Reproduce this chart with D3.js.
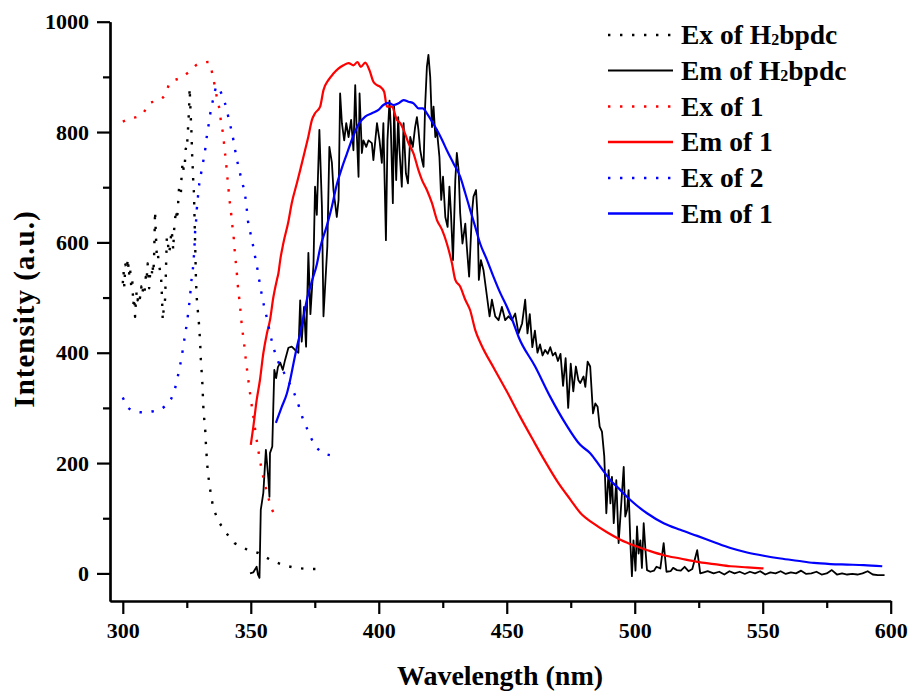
<!DOCTYPE html>
<html>
<head>
<meta charset="utf-8">
<script src="https://cdn.jsdelivr.net/npm/d3@7"></script>
<style>
  html, body { margin: 0; padding: 0; background: #fff; }
  svg { display: block; }
  text { font-family: "Liberation Serif", "Times New Roman", serif; font-weight: bold; fill: #000; }
</style>
</head>
<body>
<svg id="chart" width="912" height="693"></svg>
<script>
// ---------------- DATA ----------------
const xTicks = [300, 350, 400, 450, 500, 550, 600];
const xMinorTicks = [325, 375, 425, 475, 525, 575];
const yTicks = [0, 200, 400, 600, 800, 1000];
const yMinorTicks = [100, 300, 500, 700, 900];

const seriesNames = ["Ex of H2bpdc", "Em of H2bpdc", "Ex of 1", "Em of 1", "Ex of 2", "Em of 1"];

// Ex of H2bpdc (black dotted)
const exH2Wave = [300.0,300.3,300.6,301.0,301.5,302.0,302.4,302.8,303.3,303.7,304.1,304.5,304.8,305.1,305.4,305.8,306.2,306.7,307.2,307.6,308.0,308.5,309.0,309.3,309.7,310.0,310.3,310.7,311.3,311.6,311.9,312.2,312.4,312.6,312.9,313.3,313.7,314.1,314.5,315.0,315.3,315.6,316.0,316.5,316.8,317.2,317.6,318.0,318.5,318.8,319.1,319.5,319.7,320.0,320.4,320.8,321.2,321.7,322.0,322.4,322.7,323.0,323.4,323.8,324.2,324.6,325.0,325.3,325.6,325.8,326.0,326.1,326.3,326.5,326.7,326.9,327.0,327.2,327.4,327.6,327.8,328.0,328.2,328.4,328.6,328.9,329.3,329.8,330.2,330.5,330.8,331.1,331.5,331.9,332.3,332.5,332.8,333.2,333.8,334.5,335.4,337.3,340.1,343.6,348.2,353.0,357.9,362.6,367.6,372.3,377.1,378.5];
const exH2Int = [526,547,520,560,550,571,540,556,520,532,487,500,465,492,511,495,508,499,520,505,520,510,538,530,562,540,517,545,538,560,544,568,610,657,616,574,580,560,550,532,502,459,480,496,540,610,600,580,592,610,622,600,586,620,641,659,640,677,700,701,690,725,746,730,740,770,767,792,816,834,858,880,858,833,812,791,769,746,726,701,690,650,610,570,530,499,477,450,420,387,366,343,298,275,254,231,210,184,163,140,118,95,75,55,44,37,24,15,10,8,8,8];

// Em of H2bpdc (black solid)
const emH2Wave = [349.7,351.0,352.3,352.8,353.4,353.9,354.9,355.9,356.9,357.3,357.5,358.4,358.8,359.2,359.9,360.6,361.5,362.5,363.4,364.7,366.0,367.3,368.6,369.3,369.9,370.8,371.6,372.5,373.3,374.5,375.1,375.8,376.8,377.8,378.4,379.9,380.7,381.7,382.3,383.6,384.3,384.9,385.6,386.5,387.3,388.2,389.2,390.1,390.8,391.4,392.1,392.5,393.4,394.0,395.1,396.0,397.3,397.9,399.3,400.3,401.2,401.8,402.8,403.4,404.2,404.7,405.5,406.0,406.8,407.6,408.1,409.0,409.7,410.6,411.4,412.3,413.3,414.2,414.9,415.5,416.2,416.9,417.5,418.1,418.8,419.4,420.1,420.8,421.4,422.1,422.7,423.7,424.4,425.1,426.0,426.9,427.6,428.2,429.0,429.9,430.5,431.2,431.8,432.7,433.8,434.4,435.3,436.4,437.0,438.0,438.6,439.1,439.9,440.9,442.3,443.3,444.2,445.5,446.8,448.1,449.4,450.7,452.0,453.3,454.6,456.0,457.2,458.1,459.0,460.0,461.0,462.0,463.0,464.0,465.0,466.0,467.0,468.0,469.0,470.0,471.0,472.0,473.0,474.0,475.0,476.0,477.0,478.0,478.7,480.0,480.7,481.6,482.6,483.7,484.6,485.5,486.3,487.2,488.1,488.9,489.8,490.5,491.1,491.8,492.8,493.7,494.4,495.7,496.3,497.0,497.6,498.3,498.9,499.5,500.3,500.9,501.5,502.2,502.8,503.5,504.2,504.8,506.1,507.5,508.5,510.0,511.3,512.4,514.0,515.0,516.5,518.0,519.5,521.0,522.5,524.4,525.6,527.0,528.5,530.8,533.0,535.0,537.0,539.0,541.0,543.0,545.0,547.0,549.0,551.0,553.0,555.0,557.0,559.0,561.0,563.0,565.0,567.0,569.0,571.0,573.0,575.0,577.0,579.0,581.0,583.0,585.0,587.0,589.0,591.0,593.0,595.0,597.6];
const emH2Int = [0,2,12,-2,-8,115,146,224,170,139,218,230,302,369,354,374,382,369,387,409,411,405,400,495,420,483,411,581,470,560,701,650,804,664,466,592,773,744,695,646,677,870,816,785,816,791,822,767,885,798,719,870,762,785,773,785,780,749,816,785,744,816,604,785,857,809,671,846,713,827,767,701,816,725,707,791,773,809,827,804,767,749,737,846,918,940,900,809,846,791,804,755,677,719,646,628,701,653,568,713,762,731,653,598,634,592,538,653,683,695,646,532,568,550,501,466,496,466,459,483,459,466,459,471,435,453,496,435,470,410,440,400,415,395,405,398,410,395,400,385,398,340,390,300,380,330,375,350,345,357,338,384,375,290,308,302,266,257,212,109,187,127,175,91,169,55,103,193,103,115,151,55,-5,60,5,85,36,60,10,91,42,6,3,5,12,9,55,3,4,10,6,5,12,4,8,42,0,2,4,0,3,-2,4,0,3,-1,3,0,4,-2,2,0,4,-1,2,0,5,-1,0,3,-2,0,6,-2,0,-2,-1,-2,0,4,-2,-3,-3];

// Ex of 1 (red dotted)
const ex1Wave = [300.0,303.2,305.8,308.0,310.2,313.5,316.5,318.5,322.4,325.6,329.3,333.7,335.0,336.0,336.9,337.9,338.4,339.3,339.7,340.3,340.7,341.2,341.6,342.2,342.6,343.2,343.6,344.0,344.5,344.9,345.4,345.9,346.3,346.8,347.5,348.0,348.6,349.2,349.8,350.5,351.2,351.9,352.6,353.4,354.3,355.3,356.6,357.9,360.1];
const ex1Int = [819,825,828,834,852,857,867,890,898,908,923,927,905,882,859,837,816,792,771,747,725,702,680,659,637,616,592,571,547,524,502,480,459,438,412,390,367,345,323,300,278,254,233,210,187,166,142,121,100];

// Em of 1 (red solid)
const em1Wave = [350.0,351.0,352.3,353.6,354.9,356.3,357.5,358.8,360.2,360.8,361.5,362.7,364.7,366.0,368.0,369.3,371.2,372.5,373.9,375.1,377.1,378.4,380.3,382.3,384.2,386.2,388.2,390.1,391.7,393.0,394.7,396.6,397.9,399.3,400.6,402.1,403.2,405.1,407.1,408.4,409.7,411.6,413.6,415.5,416.9,418.8,420.8,422.7,424.7,426.6,428.6,429.9,431.8,433.8,435.7,437.7,440,445,450,455,460,465,470,475,478.7,483.7,489,494.4,500,505,511.3,517.8,524.4,531,537.5,544,550.3];
const em1Int = [233,266,314,351,399,435,459,500,532,544,568,598,638,671,707,731,767,792,822,834,846,876,894,906,915,921,925,921,927,918,926,909,891,885,882,873,846,846,822,816,804,780,761,731,713,695,671,641,623,598,562,532,520,496,477,441,415,372,330,286,244,203,165,133,110,91,75,61,50,42,33,27,21,17,13,11,9];

// Ex of 2 (blue dotted)
const ex2Wave = [300.0,302.4,307.1,311.9,316.2,319.5,321.0,322.0,323.0,323.7,324.5,325.2,325.8,326.3,326.7,327.3,327.7,328.0,328.2,328.6,328.9,329.3,329.9,330.7,331.5,332.3,332.9,333.7,334.4,335.4,336.7,339.0,340.6,341.6,342.8,343.6,344.5,345.5,346.7,347.8,348.4,348.9,349.9,350.9,351.8,352.7,353.5,354.4,355.3,356.4,357.4,358.5,359.9,363.4,367.0,368.8,370.3,372.3,374.5,378.4,383.2];
const ex2Int = [319,299,292,294,302,323,346,369,392,414,437,459,482,503,526,548,570,592,615,637,659,680,707,728,749,772,795,818,840,861,883,864,841,819,796,775,752,731,708,685,662,639,616,594,571,549,526,503,482,461,438,416,394,360,326,303,281,259,237,218,213];

// Em of 1 (blue solid)
const em2Wave = [359.8,362.1,364.1,365.4,366.7,368.0,369.3,370.6,372.1,373.9,375.8,377.1,379.7,381.7,383.6,385.6,387.5,389.5,392.1,394.7,397.3,399.9,401.8,403.8,405.8,407.7,409.7,411.6,413.6,415.5,417.2,418.8,420.8,422.7,424.7,426.6,429.2,431.8,433.8,435.7,437.7,439.6,442.3,444.8,447.5,450.1,452.7,454.6,461.1,467.0,472.9,478.7,482.6,486.6,490.5,494.4,498.3,504.8,511.3,517.8,524.4,530.8,537.4,543.9,550.4,557.0,563.5,570.0,576.5,583.0,589.5,596.7];
const em2Int = [273,302,326,351,381,410,435,465,500,530,560,590,630,665,705,735,760,786,814,828,834,840,849,853,849,852,858,855,852,843,843,834,819,804,786,767,743,719,689,659,628,598,568,538,508,483,453,429,375,320,272,233,218,193,169,151,133,109,91,79,68,57,46,38,32,27,23,19,17,16,15,13];

// ---------------- CHART ----------------
const svg = d3.select("#chart");
svg.append("rect").attr("width", 912).attr("height", 693).attr("fill", "#fff");

const x = d3.scaleLinear().domain([295, 600]).range([110, 890.7]);
const y = d3.scaleLinear().domain([-50, 1000]).range([601, 21.7]);

const series = [
  { name: seriesNames[0], xs: exH2Wave, ys: exH2Int, color: "#000000", dotted: true, width: 2.4 },
  { name: seriesNames[1], xs: emH2Wave, ys: emH2Int, color: "#000000", dotted: false, width: 1.8 },
  { name: seriesNames[2], xs: ex1Wave, ys: ex1Int, color: "#ff0000", dotted: true, width: 2.4 },
  { name: seriesNames[3], xs: em1Wave, ys: em1Int, color: "#ff0000", dotted: false, width: 2.2 },
  { name: seriesNames[4], xs: ex2Wave, ys: ex2Int, color: "#0000ff", dotted: true, width: 2.4 },
  { name: seriesNames[5], xs: em2Wave, ys: em2Int, color: "#0000ff", dotted: false, width: 2.2 }
];

const line = d3.line().curve(d3.curveMonotoneX).x(d => x(d[0])).y(d => y(d[1]));
const lineRaw = d3.line().x(d => x(d[0])).y(d => y(d[1]));

const plot = svg.append("g");
series.forEach((s, i) => {
  const pts = s.xs.map((v, k) => [v, s.ys[k]]);
  plot.append("path")
    .datum(pts)
    .attr("d", (i === 0 || i === 1) ? lineRaw : line)
    .attr("fill", "none")
    .attr("stroke", s.color)
    .attr("stroke-width", s.width)
    .attr("stroke-linejoin", "round")
    .attr("stroke-dasharray", s.dotted ? "2.4,9.6" : null);
});

// Axes
function styleAxis(g) {
  g.select(".domain").attr("stroke", "#000").attr("stroke-width", 2.2);
  g.selectAll(".tick line").attr("stroke", "#000").attr("stroke-width", 2.2);
  g.selectAll(".tick text").style("font-size", "22px").style("font-family", '"Liberation Serif", "Times New Roman", serif').style("font-weight", "bold");
}

const xAxisG = svg.append("g").attr("transform", "translate(0,601)")
  .call(d3.axisBottom(x).tickValues(xTicks).tickSize(13).tickPadding(8).tickSizeOuter(0).tickFormat(d3.format("d")));
styleAxis(xAxisG);
const xMinorG = svg.append("g").attr("transform", "translate(0,601)")
  .call(d3.axisBottom(x).tickValues(xMinorTicks).tickSize(7).tickSizeOuter(0).tickFormat(""));
styleAxis(xMinorG);

const yAxisG = svg.append("g").attr("transform", "translate(110,0)")
  .call(d3.axisLeft(y).tickValues(yTicks).tickSize(13).tickPadding(8).tickSizeOuter(0).tickFormat(d3.format("d")));
styleAxis(yAxisG);
const yMinorG = svg.append("g").attr("transform", "translate(110,0)")
  .call(d3.axisLeft(y).tickValues(yMinorTicks).tickSize(7).tickSizeOuter(0).tickFormat(""));
styleAxis(yMinorG);

// Axis titles
svg.append("text")
  .attr("x", 500).attr("y", 685)
  .attr("text-anchor", "middle")
  .style("font-size", "28px")
  .text("Wavelength (nm)");

svg.append("text")
  .attr("transform", "translate(34,309) rotate(-90)")
  .attr("text-anchor", "middle")
  .style("font-size", "29px")
  .style("letter-spacing", "1px")
  .text("Intensity (a.u.)");

// Legend
const legendRowY = [35, 70.5, 106.5, 142, 178, 213.5];
const legend = svg.append("g");
series.forEach((s, i) => {
  const cy = legendRowY[i];
  legend.append("line")
    .attr("x1", 608).attr("x2", 673)
    .attr("y1", cy).attr("y2", cy)
    .attr("stroke", s.color)
    .attr("stroke-width", s.dotted ? 2.4 : (i === 1 ? 1.8 : 2.4))
    .attr("stroke-dasharray", s.dotted ? "2.4,9.6" : null);
  const t = legend.append("text")
    .attr("x", 681).attr("y", cy + 9)
    .style("font-size", "27.5px");
  const m = s.name.match(/^(.*H)2(bpdc)$/);
  if (m) {
    t.append("tspan").text(m[1]);
    t.append("tspan").attr("dy", 1).style("font-size", "16px").text("2");
    t.append("tspan").attr("dy", -1).text(m[2]);
  } else {
    t.text(s.name);
  }
});
</script>
</body>
</html>
